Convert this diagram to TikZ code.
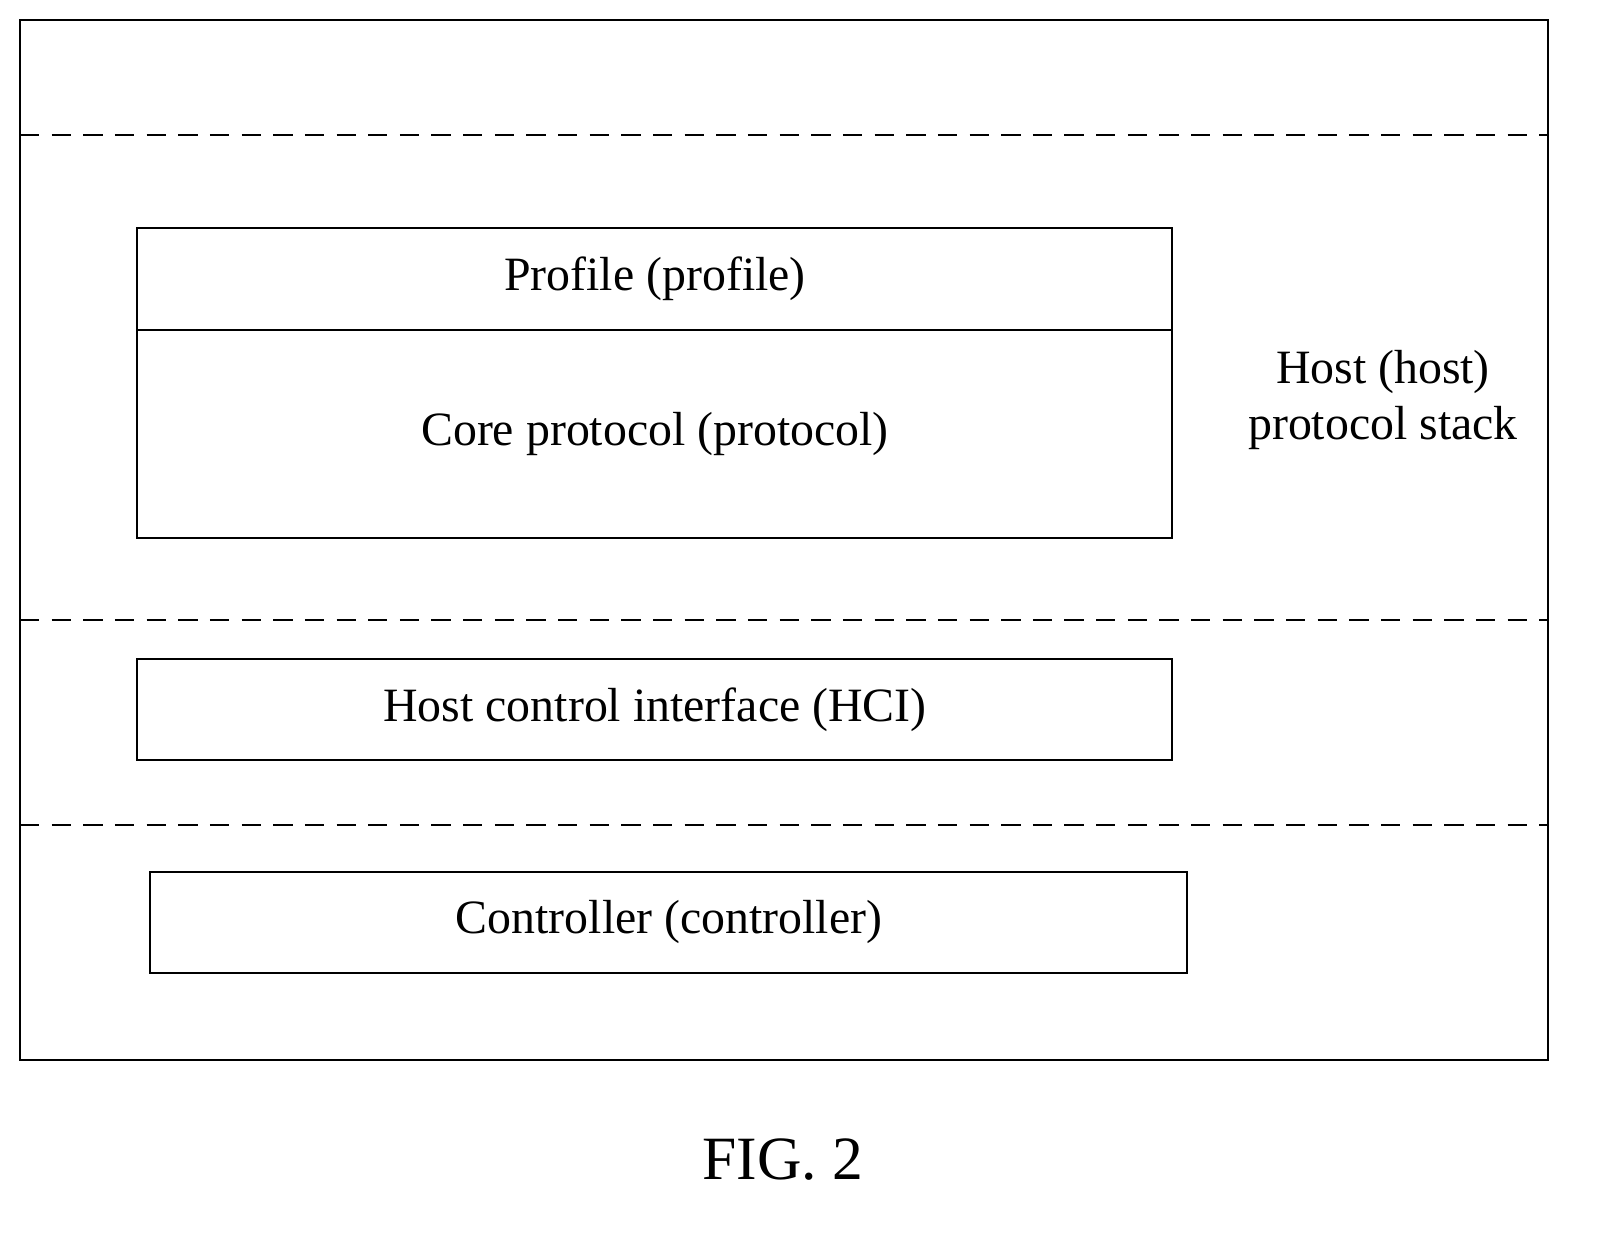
\documentclass[tikz,border=0pt]{standalone}
\usepackage{fontspec}
\setmainfont{Liberation Serif}
\begin{document}
\begin{tikzpicture}[x=0.01cm,y=-0.01cm,
  box/.style={draw,line width=0.6pt},
  dashline/.style={draw,line width=0.6pt,dash pattern=on 5.5pt off 3.5pt},
  lab/.style={font=\fontsize{13.6}{16}\selectfont,align=center}]
\useasboundingbox (0,0) rectangle (1613,1233);
\draw[box] (20,20) rectangle (1548,1060);
\coordinate (d1l) at (20,135); \coordinate (d1r) at (1548,135);
\coordinate (d2l) at (20,620); \coordinate (d2r) at (1548,620);
\coordinate (d3l) at (20,825); \coordinate (d3r) at (1548,825);
\draw[dashline] (d1l) -- (d1r);
\draw[dashline] (d2l) -- (d2r);
\draw[dashline] (d3l) -- (d3r);
\draw[box] (137,228) rectangle (1172,330);
\draw[box] (137,330) rectangle (1172,538);
\draw[box] (137,659) rectangle (1172,760);
\draw[box] (150,872) rectangle (1187,973);
\node[lab] (p) at (655,279) {Profile (profile)};
\node[lab] (c) at (655,434) {Core protocol (protocol)};
\node[lab] (h) at (655,710) {Host control interface (HCI)};
\node[lab] (ct) at (669,922) {Controller (controller)};
\node[lab] (hs) at (1383,400) {Host (host)\\protocol stack};
\node[font=\fontsize{17.5}{21}\selectfont] (f) at (783,1160) {FIG. 2};
\end{tikzpicture}
\end{document}
